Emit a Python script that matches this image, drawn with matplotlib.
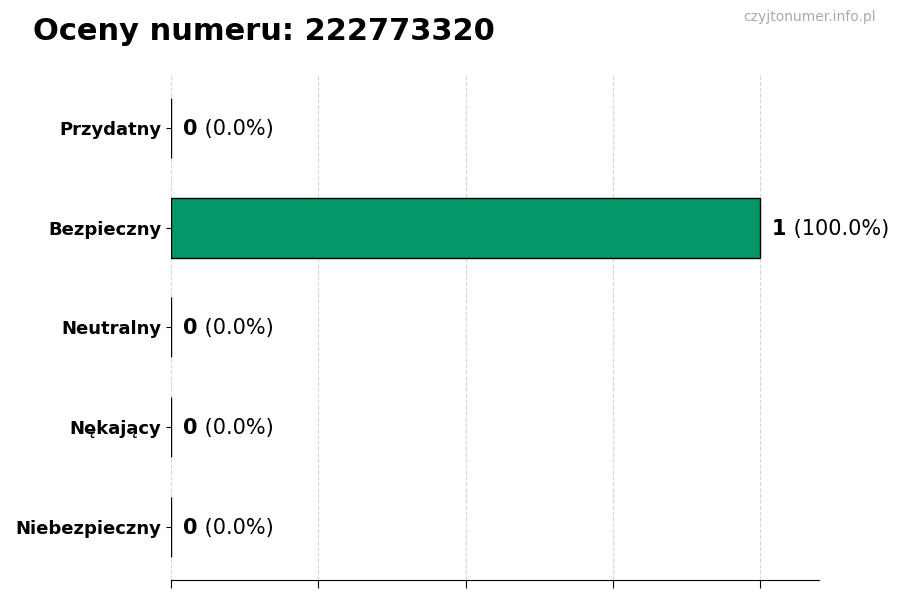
import matplotlib
matplotlib.use("Agg")
import matplotlib.pyplot as plt
from matplotlib.transforms import offset_copy

categories = ["Przydatny", "Bezpieczny", "Neutralny", "Nękający", "Niebezpieczny"]
counts = [0, 1, 0, 0, 0]
percents = [0.0, 100.0, 0.0, 0.0, 0.0]
title = "Oceny numeru: 222773320"
watermark = "czyjtonumer.info.pl"
bar_color = "#05976a"

fig = plt.figure(figsize=(9, 6), dpi=100)
ax = fig.add_axes([0.19, 0.0333, 0.7200, 0.842])

ypos = list(range(len(categories)))
ax.barh(ypos, counts, height=0.6, color=bar_color, edgecolor="black", linewidth=1)
ax.set_yticks(ypos)
ax.set_yticklabels(categories, fontsize=13, fontweight="bold")
ax.invert_yaxis()
ax.set_xlim(0, 1.1)
ax.set_xticks([0, 0.25, 0.5, 0.75, 1.0])
ax.set_xticklabels([])
ax.tick_params(axis="x", length=6)
ax.grid(axis="x", linestyle="--", color="#cccccc", alpha=0.8, linewidth=0.8)
ax.set_axisbelow(True)
for s in ["top", "right", "left"]:
    ax.spines[s].set_visible(False)

fig.canvas.draw()
renderer = fig.canvas.get_renderer()
for y, c, p in zip(ypos, counts, percents):
    t1 = ax.text(c, y, str(c), fontsize=15, fontweight="bold", va="center", ha="left",
                 transform=offset_copy(ax.transData, fig=fig, x=12, y=-1, units="dots"))
    w = t1.get_window_extent(renderer).width
    ax.text(c, y, f" ({p:.1f}%)", fontsize=15, va="center", ha="left",
            transform=offset_copy(ax.transData, fig=fig, x=12 + w, y=-1, units="dots"))

fig.text(33 / 900, 1 - 31.5 / 600, title, fontsize=22, fontweight="bold", va="center", ha="left")
fig.text(876 / 900, 1 - 17.5 / 600, watermark, fontsize=10, color="#aaaaaa", va="center", ha="right")

fig.savefig("out.png", dpi=100)
